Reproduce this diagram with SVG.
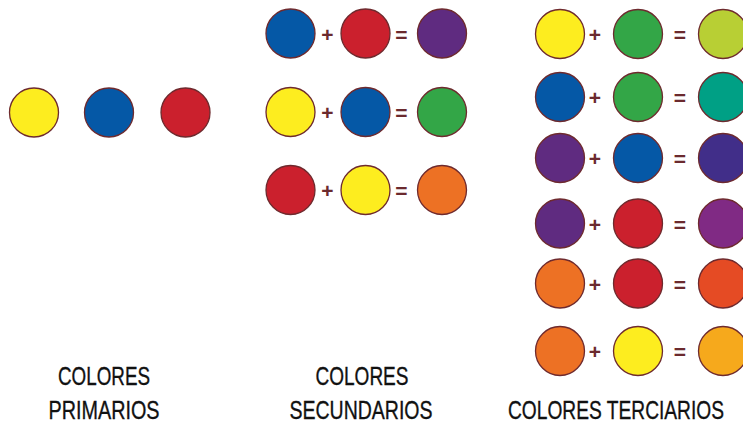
<svg xmlns="http://www.w3.org/2000/svg" width="743" height="424" viewBox="0 0 743 424">
<style>
.c{stroke:#6e2a2e;stroke-width:1.3}
.op{font-family:"Liberation Sans",Arial,sans-serif;font-weight:bold;font-size:21px;fill:#6b2a2e;text-anchor:middle}
.lb{font-family:"Liberation Sans",Arial,sans-serif;font-size:26px;fill:#111;stroke:#111;stroke-width:0.35;text-anchor:middle}
.Y{fill:#fded1f}.B{fill:#0558a6}.R{fill:#cb202d}.P{fill:#5f2b80}.G{fill:#33a647}.O{fill:#ed7124}
.YG{fill:#b8cf34}.BG{fill:#00a085}.BV{fill:#412e89}.RV{fill:#802a84}.RO{fill:#e54b24}.YO{fill:#f6a91c}
</style>
<rect width="743" height="424" fill="#fff"/>
<g id="primarios">
<circle class="c Y" cx="34" cy="112.5" r="24.5"/>
<circle class="c B" cx="109" cy="112.5" r="24.5"/>
<circle class="c R" cx="185.5" cy="112.5" r="24.5"/>
</g>
<g id="secundarios">
<circle class="c B" cx="290.5" cy="33.5" r="24.5"/><text class="op" x="327.3" y="41.5">+</text>
<circle class="c R" cx="365.5" cy="33.5" r="24.5"/><text class="op" x="401.3" y="41.5">=</text>
<circle class="c P" cx="442" cy="33.5" r="24.5"/>
<circle class="c Y" cx="290.5" cy="112" r="24.5"/><text class="op" x="327.3" y="120">+</text>
<circle class="c B" cx="365.5" cy="112" r="24.5"/><text class="op" x="401.3" y="120">=</text>
<circle class="c G" cx="442" cy="112" r="24.5"/>
<circle class="c R" cx="290.5" cy="190" r="24.5"/><text class="op" x="327.3" y="198">+</text>
<circle class="c Y" cx="365.5" cy="190" r="24.5"/><text class="op" x="401.3" y="198">=</text>
<circle class="c O" cx="442" cy="190" r="24.5"/>
</g>
<g id="terciarios">
<circle class="c Y" cx="560" cy="34" r="24.5"/><text class="op" x="595" y="42">+</text>
<circle class="c G" cx="638" cy="34" r="24.5"/><text class="op" x="680" y="42">=</text>
<circle class="c YG" cx="723" cy="34" r="24.5"/>
<circle class="c B" cx="560" cy="97" r="24.5"/><text class="op" x="595" y="105">+</text>
<circle class="c G" cx="638" cy="97" r="24.5"/><text class="op" x="680" y="105">=</text>
<circle class="c BG" cx="723" cy="97" r="24.5"/>
<circle class="c P" cx="560" cy="158" r="24.5"/><text class="op" x="595" y="166">+</text>
<circle class="c B" cx="638" cy="158" r="24.5"/><text class="op" x="680" y="166">=</text>
<circle class="c BV" cx="723" cy="158" r="24.5"/>
<circle class="c P" cx="560" cy="223.5" r="24.5"/><text class="op" x="595" y="231.5">+</text>
<circle class="c R" cx="638" cy="223.5" r="24.5"/><text class="op" x="680" y="231.5">=</text>
<circle class="c RV" cx="723" cy="223.5" r="24.5"/>
<circle class="c O" cx="560" cy="283.5" r="24.5"/><text class="op" x="595" y="291.5">+</text>
<circle class="c R" cx="638" cy="283.5" r="24.5"/><text class="op" x="680" y="291.5">=</text>
<circle class="c RO" cx="723" cy="283.5" r="24.5"/>
<circle class="c O" cx="560" cy="351" r="24.5"/><text class="op" x="595" y="359">+</text>
<circle class="c Y" cx="638" cy="351" r="24.5"/><text class="op" x="680" y="359">=</text>
<circle class="c YO" cx="723" cy="351" r="24.5"/>
</g>
<g id="etiquetas">
<text class="lb" x="104" y="385" textLength="92" lengthAdjust="spacingAndGlyphs">COLORES</text>
<text class="lb" x="104" y="419" textLength="111" lengthAdjust="spacingAndGlyphs">PRIMARIOS</text>
<text class="lb" x="362" y="385" textLength="93" lengthAdjust="spacingAndGlyphs">COLORES</text>
<text class="lb" x="361" y="419" textLength="143" lengthAdjust="spacingAndGlyphs">SECUNDARIOS</text>
<text class="lb" x="616" y="419" textLength="216" lengthAdjust="spacingAndGlyphs">COLORES TERCIARIOS</text>
</g>
</svg>
